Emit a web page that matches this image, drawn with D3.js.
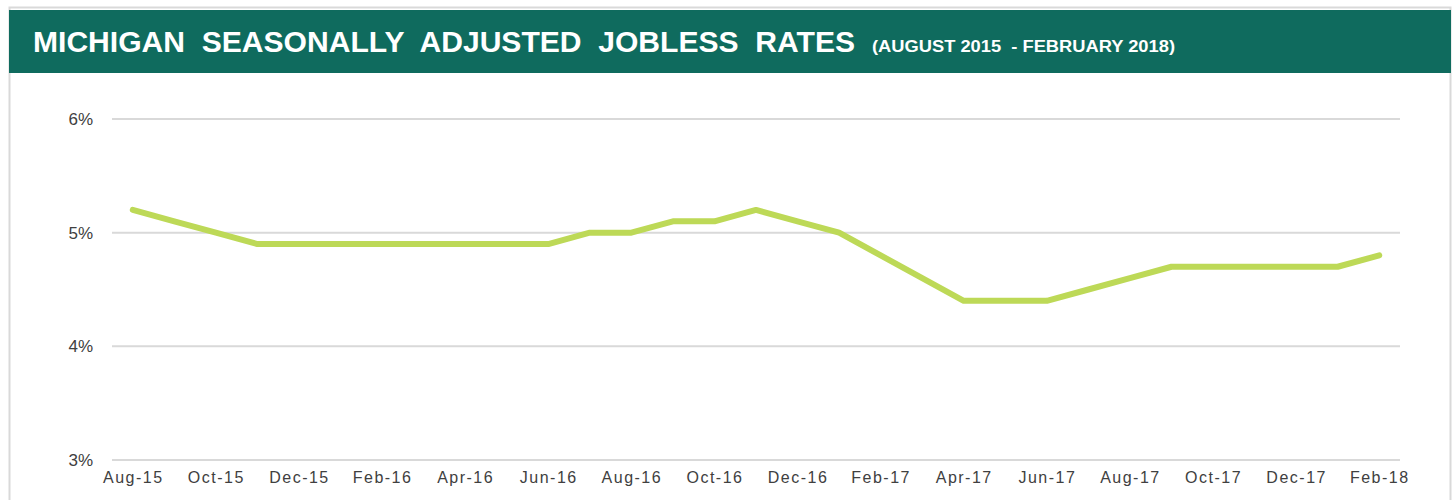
<!DOCTYPE html>
<html>
<head>
<meta charset="utf-8">
<title>Michigan jobless rates</title>
<style>
body { margin: 0; background: #fff; }
text { font-family: Arial, "Liberation Sans", sans-serif; }
.grid line { stroke: #d9d9d9; stroke-width: 2px; }
.tick-label { fill: #404040; font-size: 16px; }
.title { white-space: pre; }
</style>
</head>
<body>
<script src="https://cdn.jsdelivr.net/npm/d3@7"></script>
<script>

// months Aug-15 .. Feb-18
var months = ["Aug-15","Sep-15","Oct-15","Nov-15","Dec-15","Jan-16","Feb-16","Mar-16","Apr-16","May-16",
              "Jun-16","Jul-16","Aug-16","Sep-16","Oct-16","Nov-16","Dec-16","Jan-17","Feb-17","Mar-17",
              "Apr-17","May-17","Jun-17","Jul-17","Aug-17","Sep-17","Oct-17","Nov-17","Dec-17","Jan-18","Feb-18"];

var rates = [5.2,5.1,5.0,4.9,4.9,4.9,4.9,4.9,4.9,4.9,
             4.9,5.0,5.0,5.1,5.1,5.2,5.1,5.0,4.8,4.6,
             4.4,4.4,4.4,4.5,4.6,4.7,4.7,4.7,4.7,4.7,4.8];

var yTicks = [3, 4, 5, 6];

var width = 1453,
    height = 500;

var svg = d3.select("body").append("svg")
    .attr("width", width)
    .attr("height", height);

// outer frame
svg.append("rect")
    .attr("x", 9.5)
    .attr("y", 7.5)
    .attr("width", 1441)
    .attr("height", 520)
    .attr("fill", "none")
    .attr("stroke", "#d9d9d9")
    .attr("stroke-width", 2);

// header band
svg.append("rect")
    .attr("x", 9)
    .attr("y", 10)
    .attr("width", 1442)
    .attr("height", 63)
    .attr("fill", "#0f6b5e");

svg.append("text")
    .attr("class", "title")
    .attr("x", 33)
    .attr("y", 52)
    .attr("fill", "#fff")
    .style("font-size", "29px")
    .style("font-weight", "bold")
    .attr("textLength", 822)
    .attr("lengthAdjust", "spacingAndGlyphs")
    .text("MICHIGAN  SEASONALLY  ADJUSTED  JOBLESS  RATES");

svg.append("text")
    .attr("class", "title")
    .attr("x", 872)
    .attr("y", 52)
    .attr("fill", "#fff")
    .style("font-size", "16px")
    .style("font-weight", "bold")
    .attr("textLength", 303)
    .attr("lengthAdjust", "spacingAndGlyphs")
    .text("(AUGUST 2015  - FEBRUARY 2018)");

var x = d3.scalePoint()
    .domain(months)
    .range([112, 1400])
    .padding(0.5);

var y = d3.scaleLinear()
    .domain([3, 6])
    .range([460, 119]);

// gridlines
svg.append("g")
    .attr("class", "grid")
    .selectAll("line")
    .data(yTicks)
    .enter().append("line")
    .attr("x1", 112)
    .attr("x2", 1400)
    .attr("y1", function(d) { return y(d); })
    .attr("y2", function(d) { return y(d); });

// y labels
svg.append("g")
    .selectAll("text")
    .data(yTicks)
    .enter().append("text")
    .attr("class", "tick-label")
    .attr("x", 93)
    .attr("y", function(d) { return y(d); })
    .attr("dy", "0.35em")
    .attr("text-anchor", "end")
    .style("font-size", "17px")
    .text(function(d) { return d + "%"; });

// x labels, every other month
var xAxis = d3.axisBottom(x)
    .tickValues(months.filter(function(d, i) { return i % 2 == 0; }))
    .tickSize(0)
    .tickPadding(0);

var gx = svg.append("g")
    .attr("transform", "translate(0,472)")
    .call(xAxis);

gx.select(".domain").remove();
gx.selectAll("text")
    .attr("class", "tick-label")
    .attr("dy", "0.71em")
    .style("font-size", "16px")
    .style("letter-spacing", "1.5px")
    .style("font-family", "Arial, 'Liberation Sans', sans-serif");

// the line
var line = d3.line()
    .x(function(d, i) { return x(months[i]); })
    .y(function(d) { return y(d); });

svg.append("path")
    .datum(rates)
    .attr("d", line)
    .attr("fill", "none")
    .attr("stroke", "#bdd957")
    .attr("stroke-width", 6)
    .attr("stroke-linecap", "round")
    .attr("stroke-linejoin", "round");

</script>
</body>
</html>
